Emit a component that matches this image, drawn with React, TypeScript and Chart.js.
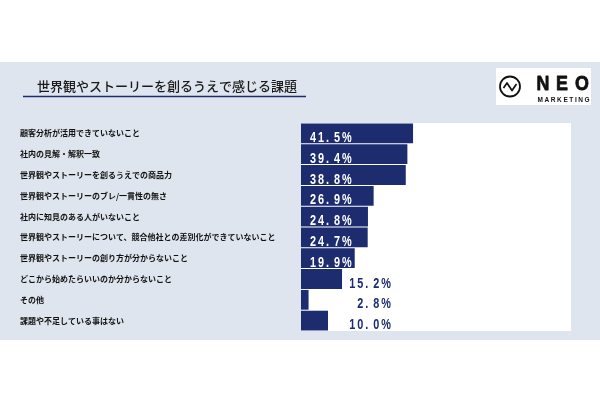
import React, { useEffect, useRef } from "react";
import { Chart, registerables } from "chart.js";

Chart.register(...registerables);

const categories: string[] = [
  "顧客分析が活用できていないこと",
  "社内の見解・解釈一致",
  "世界観やストーリーを創るうえでの商品力",
  "世界観やストーリーのブレ/一貫性の無さ",
  "社内に知見のある人がいないこと",
  "世界観やストーリーについて、競合他社との差別化ができていないこと",
  "世界観やストーリーの創り方が分からないこと",
  "どこから始めたらいいのか分からないこと",
  "その他",
  "課題や不足している事はない",
];
const values: number[] = [41.5, 39.4, 38.8, 26.9, 24.8, 24.7, 19.9, 15.2, 2.8, 10.0];
const valueLabels: string[] = ["41.5%", "39.4%", "38.8%", "26.9%", "24.8%", "24.7%", "19.9%", "15.2%", "2.8%", "10.0%"];
const titleText = "世界観やストーリーを創るうえで感じる課題";
const logoMain = ["N", "E", "O"];
const logoSub = "MARKETING";

const NAVY = "#1d2b6f";
const PANEL = "#dfe5ee";

const backgroundPlugin = {
  id: "bgPlugin",
  beforeDraw(chart: any) {
    const { ctx, chartArea } = chart;
    ctx.save();
    ctx.fillStyle = "#ffffff";
    ctx.fillRect(0, 0, chart.width, chart.height);
    ctx.fillStyle = PANEL;
    ctx.fillRect(0, 62, chart.width, 278);
    // plot area
    ctx.fillStyle = "#ffffff";
    ctx.fillRect(chartArea.left, chartArea.top, chartArea.right - chartArea.left, chartArea.bottom - chartArea.top);
    // title
    ctx.fillStyle = "#1a1a1a";
    ctx.font = '500 13px "Noto Sans CJK JP"';
    ctx.textBaseline = "alphabetic";
    ctx.textAlign = "left";
    ctx.fillText(titleText, 37, 91);
    ctx.strokeStyle = NAVY;
    ctx.lineWidth = 1.6;
    ctx.beginPath();
    ctx.moveTo(23, 96.5);
    ctx.lineTo(306, 96.5);
    ctx.stroke();
    // logo
    ctx.fillStyle = "#ffffff";
    ctx.fillRect(496, 68, 95, 37);
    ctx.strokeStyle = "#111111";
    ctx.lineWidth = 1.8;
    ctx.beginPath();
    ctx.arc(510, 86.5, 10, 0, Math.PI * 2);
    ctx.stroke();
    ctx.lineWidth = 1.7;
    ctx.lineJoin = "round";
    ctx.beginPath();
    ctx.moveTo(503.5, 88);
    ctx.lineTo(507, 83);
    ctx.lineTo(512, 90.5);
    ctx.lineTo(516.5, 84);
    ctx.stroke();
    ctx.fillStyle = "#111111";
    ctx.font = '900 21px "Liberation Sans"';
    const letterX = [536.5, 556, 575];
    logoMain.forEach((ch, i) => {
      ctx.save();
      ctx.translate(letterX[i], 90);
      ctx.scale(0.85, 1);
      ctx.fillText(ch, 0, 0);
      ctx.strokeStyle = "#111111";
      ctx.lineWidth = 0.8;
      ctx.strokeText(ch, 0, 0);
      ctx.restore();
    });
    ctx.font = 'bold 6.5px "Liberation Sans"';
    (ctx as any).letterSpacing = "1.6px";
    ctx.fillText(logoSub, 537.5, 102);
    (ctx as any).letterSpacing = "0px";
    ctx.restore();
  },
};

const labelPlugin = {
  id: "valueLabels",
  afterDatasetsDraw(chart: any) {
    const { ctx } = chart;
    const meta = chart.getDatasetMeta(0);
    const xScale = chart.scales.x;
    const x0 = xScale.getPixelForValue(0);
    const pitch = 8;
    const sx = 0.75;
    ctx.save();
    ctx.font = 'bold 14.5px "Liberation Sans"';
    ctx.textBaseline = "alphabetic";
    ctx.textAlign = "left";
    meta.data.forEach((bar: any, i: number) => {
      const label = valueLabels[i];
      const chars = label.split("");
      const inside = values[i] >= 19;
      const lastW = ctx.measureText(chars[chars.length - 1]).width * sx;
      const totalW = (chars.length - 1) * pitch + lastW;
      const start = inside ? x0 + 9 : x0 + 90 - totalW;
      ctx.fillStyle = inside ? "#ffffff" : NAVY;
      const yb = bar.y + 8.5;
      chars.forEach((ch, k) => {
        ctx.save();
        ctx.translate(start + k * pitch, yb);
        ctx.scale(sx, 1);
        ctx.fillText(ch, 0, 0);
        ctx.restore();
      });
    });
    ctx.restore();
  },
};

export default function App() {
  const canvasRef = useRef<HTMLCanvasElement | null>(null);

  useEffect(() => {
    if (!canvasRef.current) return;
    const chart = new Chart(canvasRef.current, {
      type: "bar",
      data: {
        labels: categories,
        datasets: [
          {
            data: values,
            backgroundColor: NAVY,
            borderWidth: 0,
            barPercentage: 0.95,
            categoryPercentage: 1,
          },
        ],
      },
      options: {
        indexAxis: "y",
        responsive: false,
        animation: false,
        layout: { padding: { left: 20, top: 123, right: 29, bottom: 68 } },
        plugins: {
          legend: { display: false },
          tooltip: { enabled: false },
        },
        scales: {
          x: {
            display: false,
            min: 0,
            max: 100,
          },
          y: {
            grid: { display: false },
            border: { display: false },
            afterFit: (scale: any) => {
              scale.width = 281;
            },
            ticks: {
              crossAlign: "far",
              padding: 0,
              color: "#111111",
              autoSkip: false,
              font: { family: '"Noto Sans CJK JP"', size: 8, weight: "bold" },
            },
          },
        },
      },
      plugins: [backgroundPlugin, labelPlugin],
    });
    return () => chart.destroy();
  }, []);

  return (
    <div style={{ position: "absolute", left: 0, top: 0, width: 600, height: 399 }}>
      <canvas ref={canvasRef} width={600} height={399} />
    </div>
  );
}
